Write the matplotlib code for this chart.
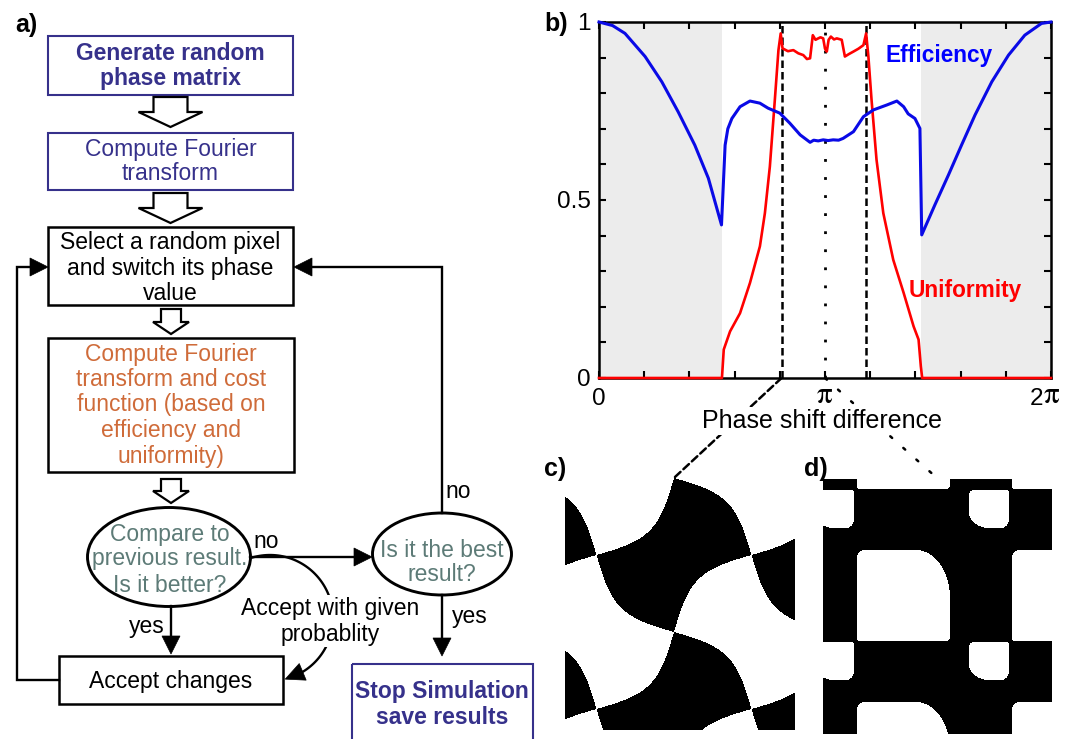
import numpy as np
import matplotlib
matplotlib.use("Agg")
import matplotlib.pyplot as plt
import matplotlib.transforms as mtransforms
from matplotlib.patches import Rectangle, Ellipse, Polygon, ConnectionPatch

plt.rcParams['font.family'] = ['Liberation Sans', 'DejaVu Sans']
plt.rcParams['mathtext.fontset'] = 'stix'

# ---------------- panel b data (phase shift difference in units of pi) ----------------
eff_phase = [0.000, 0.060, 0.115, 0.204, 0.278, 0.350, 0.424, 0.484, 0.542,
             0.558, 0.570, 0.588, 0.624, 0.668, 0.712, 0.748, 0.800, 0.844, 0.890,
             0.934, 0.950, 0.970, 0.992, 1.014, 1.036, 1.060, 1.080, 1.126, 1.170,
             1.214, 1.274, 1.318, 1.348, 1.368, 1.398, 1.420, 1.428,
             1.486, 1.546, 1.604, 1.664, 1.738, 1.812, 1.884, 1.958, 2.000]
eff_value = [1.000, 0.990, 0.968, 0.903, 0.832, 0.748, 0.654, 0.561, 0.430,
             0.654, 0.700, 0.729, 0.762, 0.778, 0.772, 0.758, 0.744, 0.716, 0.683,
             0.662, 0.668, 0.666, 0.669, 0.667, 0.669, 0.668, 0.673, 0.692, 0.734,
             0.753, 0.767, 0.778, 0.762, 0.742, 0.729, 0.701, 0.402,
             0.486, 0.570, 0.654, 0.739, 0.832, 0.907, 0.963, 0.996, 1.000]

uni_phase = [0.000, 0.544, 0.552, 0.580, 0.624, 0.668, 0.712, 0.734, 0.756, 0.778,
             0.794, 0.804, 0.812, 0.836, 0.860, 0.882, 0.904, 0.920, 0.934, 0.946,
             0.958, 0.970, 0.980, 0.992, 1.000, 1.008, 1.016, 1.026, 1.040, 1.052,
             1.074, 1.088, 1.106, 1.126, 1.148, 1.170, 1.182, 1.192, 1.206, 1.228,
             1.258, 1.302, 1.348, 1.392, 1.414, 1.424, 1.430, 2.000]
uni_value = [0.000, 0.000, 0.080, 0.131, 0.182, 0.267, 0.370, 0.463, 0.594, 0.781,
             0.921, 0.968, 0.926, 0.918, 0.921, 0.912, 0.907, 0.896, 0.898, 0.963,
             0.950, 0.954, 0.957, 0.954, 0.925, 0.917, 0.950, 0.959, 0.951, 0.954,
             0.950, 0.903, 0.910, 0.917, 0.925, 0.935, 0.968, 0.903, 0.781, 0.613,
             0.463, 0.332, 0.239, 0.145, 0.108, 0.033, 0.000, 0.000]

shaded_ranges = [(0.0, 0.544), (1.425, 2.0)]
dashed_marks = [0.808, 1.182]
dotted_mark = 1.0
x_tick_values = [0.0, 1.0, 2.0]          # labelled ticks, in units of pi
y_tick_labels = ['0', '', '', '', '', '0.5', '', '', '', '', '1']

# ---------------- phase-mask patterns for panels c and d ----------------
# c: warped checkerboard (lattice centre, half diagonals, warp strength), image pixels
mask_c_size = (230, 252)
mask_c_centre = (109.0, 77.0)
mask_c_half = (77.5, 77.0)
mask_c_warp = 0.78
# d: two rounded white domains repeated on a lattice (x0, x1, y0, y1, corner radii TL, TR, BR, BL)
mask_d_size = (229, 255)
mask_d_period = (155.0, 152.0)
domain_big = (34, 127, 71, 162, [(8, 8), (34, 48), (4, 4), (3, 3)])
domain_small = (146, 186, 11, 49, [(5, 5), (2, 2), (8, 9), (20, 16)])

BLUE_DARK = '#36318b'
ORANGE = '#cf6b39'
TEAL = '#5d7b77'
FS = 16.5

W, H = 1073, 739
fig = plt.figure(figsize=(W / 100, H / 100), dpi=100)

# full-figure canvas in pixel units for the flowchart and annotations
ax0 = fig.add_axes([0, 0, 1, 1])
ax0.set_xlim(0, W)
ax0.set_ylim(H, 0)
ax0.axis('off')


def box(x0, y0, x1, y1, ec, lw=1.8):
    ax0.add_patch(Rectangle((x0, y0), x1 - x0, y1 - y0, fill=False, ec=ec, lw=lw,
                            joinstyle='miter'))


def hollow_arrow(cx, y_top, y_head, y_tip, shaft_hw, head_hw):
    pts = [(cx - shaft_hw, y_top), (cx + shaft_hw, y_top), (cx + shaft_hw, y_head),
           (cx + head_hw, y_head), (cx, y_tip), (cx - head_hw, y_head),
           (cx - shaft_hw, y_head)]
    ax0.add_patch(Polygon(pts, closed=True, fc='white', ec='black', lw=1.6,
                          joinstyle='miter'))


def head(tip, base, hw=9):
    tip = np.asarray(tip, float)
    base = np.asarray(base, float)
    u = (tip - base) / np.hypot(*(tip - base))
    n = np.array([-u[1], u[0]])
    ax0.add_patch(Polygon([tip, base + n * hw, base - n * hw], closed=True,
                          fc='black', ec='black', lw=0.5))


def poly_arrow(points, hl=18, hw=9, lw=1.7):
    pts = np.asarray(points, float)
    tip = pts[-1]
    prev = pts[-2]
    u = (tip - prev) / np.hypot(*(tip - prev))
    base = tip - u * hl
    line = np.vstack([pts[:-1], base])
    ax0.plot(line[:, 0], line[:, 1], color='black', lw=lw, solid_joinstyle='miter')
    head(tip, base, hw)


def lines_text(lines, x, baselines, **kw):
    for s, yb in zip(lines, baselines):
        ax0.text(x, yb, s, ha='center', va='baseline', fontsize=FS, **kw)


# boxes
box(48, 36, 293, 95, BLUE_DARK, lw=1.5)
lines_text(['Generate random', 'phase matrix'], 170.5, [60.5, 85.5],
           color=BLUE_DARK, fontweight='bold')
hollow_arrow(170.5, 97, 112, 127, 17, 32)

box(48, 133, 293, 190, BLUE_DARK, lw=1.5)
lines_text(['Compute Fourier', 'transform'], 170.5, [156, 180.5], color=BLUE_DARK)
hollow_arrow(170.5, 193, 208, 223, 17, 32)

box(48, 227, 293, 305, 'black')
lines_text(['Select a random pixel', 'and switch its phase', 'value'], 170.5,
           [249.5, 274.5, 299.5], color='black')
hollow_arrow(171, 309, 322, 334, 10, 18)

box(48, 338, 294, 472, 'black')
lines_text(['Compute Fourier', 'transform and cost', 'function (based on',
            'efficiency and', 'uniformity)'], 171,
           [360.5, 386, 411.5, 437, 462.5], color=ORANGE)
hollow_arrow(171, 479, 491, 503, 10, 18)

ax0.add_patch(Ellipse((169, 557), 163, 99, fill=False, ec='black', lw=2.1))
lines_text(['Compare to', 'previous result.', 'Is it better?'], 170,
           [540.5, 565.5, 591.5], color=TEAL)

ax0.add_patch(Ellipse((442, 554), 139, 82, fill=False, ec='black', lw=2.1))
lines_text(['Is it the best', 'result?'], 442, [557, 581], color=TEAL)

box(59, 656, 283, 704, 'black')
lines_text(['Accept changes'], 171, [688], color='black')

box(352, 664, 533, 760, BLUE_DARK, lw=1.5)
lines_text(['Stop Simulation', 'save results'], 442, [698, 724.5],
           color=BLUE_DARK, fontweight='bold')

# connectors
poly_arrow([(250, 557), (372, 557)])
poly_arrow([(171, 606), (171, 654)])
poly_arrow([(442, 595), (442, 656)])
poly_arrow([(59, 680), (17, 680), (17, 267), (48, 267)])
poly_arrow([(442, 513), (442, 267), (294, 267)])

# curved "accept with probability" path
arc_c, arc_r = (270.0, 618.0), 63.0
th0, th1 = np.deg2rad(-108), np.deg2rad(76)
th_base = th1 - 19 / arc_r
th = np.linspace(th0, th_base, 80)
ax0.plot(arc_c[0] + arc_r * np.cos(th), arc_c[1] + arc_r * np.sin(th),
         color='black', lw=1.7, zorder=2)
head((arc_c[0] + arc_r * np.cos(th1), arc_c[1] + arc_r * np.sin(th1)),
     (arc_c[0] + arc_r * np.cos(th_base), arc_c[1] + arc_r * np.sin(th_base)))
for s, yb in [('Accept with given', 614.5), ('probablity', 640.5)]:
    ax0.text(330, yb, s, ha='center', va='baseline', fontsize=FS, zorder=3,
             bbox=dict(fc='white', ec='none', pad=1.0))

for s, x, yb in [('no', 266, 547.5), ('no', 458, 497.5),
                 ('yes', 147, 632.5), ('yes', 470, 623.5)]:
    ax0.text(x, yb, s, ha='center', va='baseline', fontsize=FS)

# panel letters
for s, x, yb in [('a)', 37, 32), ('b)', 568, 31), ('c)', 566, 476), ('d)', 828, 476)]:
    ax0.text(x, yb, s, ha='right', va='baseline', fontsize=18, fontweight='bold')

# ---------------- panel b ----------------
axb = fig.add_axes([599 / W, 1 - 378 / H, 452 / W, 356 / H])
for a, b in shaded_ranges:
    axb.axvspan(a * np.pi, b * np.pi, color='#ececec', lw=0, zorder=0)
for m in dashed_marks:
    axb.axvline(m * np.pi, color='black', lw=1.8, ls=(0, (3, 1.6)), zorder=1)
axb.axvline(dotted_mark * np.pi, color='black', lw=2.0, ls=(0, (1, 5.5)), zorder=1)
axb.plot(np.array(uni_phase) * np.pi, uni_value, color='#ff0000', lw=1.9,
         clip_on=False, zorder=4)
axb.plot(np.array(eff_phase) * np.pi, eff_value, color='#0a0ae6', lw=2.2,
         clip_on=False, zorder=5)
axb.set_xlim(0, 2 * np.pi)
axb.set_ylim(0, 1)
axb.set_xticks(np.arange(11) * 0.2 * np.pi)
axb.set_xticklabels([])
axb.set_yticks(np.arange(11) * 0.1)
axb.set_yticklabels(y_tick_labels)
axb.tick_params(direction='in', length=5, width=1.5, top=True, right=True,
                labelsize=17.5)
axb.tick_params(axis='y', pad=6)
for sp in axb.spines.values():
    sp.set_linewidth(1.8)

# x tick labels: sans digits with a larger serif pi
tb = mtransforms.blended_transform_factory(axb.transData, axb.transAxes)
y_digit, y_pi = -0.027, -0.005
for val in x_tick_values:
    xv = val * np.pi
    if val == 0:
        axb.text(xv, y_digit, '0', transform=tb, ha='center', va='top', fontsize=17.5)
    elif val == 1:
        axb.text(xv, y_pi, r'$\mathrm{\pi}$', transform=tb, ha='center', va='top',
                 fontsize=22.5)
    else:
        shifted = mtransforms.offset_copy(tb, fig=fig, x=-8, y=0, units='dots')
        axb.text(xv, y_digit, '2', transform=shifted, ha='right', va='top',
                 fontsize=17.5)
        axb.text(xv, y_pi, r'$\mathrm{\pi}$', transform=shifted, ha='left',
                 va='top', fontsize=22.5)

axb.text(0.872, 0.906, 'Efficiency', transform=axb.transAxes, color='#0000ff',
         fontsize=16.3, fontweight='bold', ha='right', va='center')
axb.text(0.935, 0.245, 'Uniformity', transform=axb.transAxes, color='#ff0000',
         fontsize=16.3, fontweight='bold', ha='right', va='center')

# xlabel with connectors to the masks
ax0.text(822, 428, 'Phase shift difference', ha='center', va='baseline',
         fontsize=18, zorder=5, bbox=dict(fc='white', ec='none', pad=1.5))
con1 = ConnectionPatch(xyA=(dashed_marks[0] * np.pi, 0), coordsA=axb.transData,
                       xyB=(675, 477), coordsB=ax0.transData,
                       color='black', lw=1.8, ls=(0, (3, 1.6)), zorder=2)
con2 = ConnectionPatch(xyA=(dotted_mark * np.pi, 0), coordsA=axb.transData,
                       xyB=(937, 478), coordsB=ax0.transData,
                       color='black', lw=1.8, ls=(0, (1, 6)), zorder=2)
ax0.add_artist(con1)
ax0.add_artist(con2)

# ---------------- panel c: warped checkerboard phase mask ----------------
wc, hc = mask_c_size
u, v = np.meshgrid(np.arange(wc) + 0.5, np.arange(hc) + 0.5)
tu = (u - mask_c_centre[0]) / mask_c_half[0]
tv = (v - mask_c_centre[1]) / mask_c_half[1]
P = 0.5 * np.pi * (tu - tv)
Q = 0.5 * np.pi * (tu + tv)
field_c = np.cos(P) * np.cos(Q) + mask_c_warp * 0.5 * (np.cos(2 * Q) - np.cos(2 * P))
img_c = np.where(field_c > 0, 0.0, 1.0)

axc = fig.add_axes([565 / W, 1 - 730 / H, 230 / W, 252 / H])
axc.imshow(img_c, cmap='gray', vmin=0, vmax=1, aspect='auto',
           interpolation='bilinear')
axc.axis('off')


# ---------------- panel d: rounded-domain phase mask ----------------
def rounded_domain(x, y, spec):
    x0, x1, y0, y1, (tl, tr, br, bl) = spec
    inside = (x >= x0) & (x <= x1) & (y >= y0) & (y <= y1)
    corners = [(x0 + tl[0], y0 + tl[1], tl, -1, -1), (x1 - tr[0], y0 + tr[1], tr, 1, -1),
               (x1 - br[0], y1 - br[1], br, 1, 1), (x0 + bl[0], y1 - bl[1], bl, -1, 1)]
    for cx, cy, (rx, ry), sx, sy in corners:
        in_corner = (sx * (x - cx) > 0) & (sy * (y - cy) > 0)
        outside = ((x - cx) / rx) ** 2 + ((y - cy) / ry) ** 2 > 1
        inside &= ~(in_corner & outside)
    return inside


wd, hd = mask_d_size
xd, yd = np.meshgrid(np.arange(wd) + 0.5, np.arange(hd) + 0.5)
white_d = np.zeros_like(xd, dtype=bool)
for i in range(-1, 2):
    for j in range(-1, 3):
        sx, sy = i * mask_d_period[0], j * mask_d_period[1]
        for spec in (domain_big, domain_small):
            white_d |= rounded_domain(xd - sx, yd - sy, spec)
img_d = white_d.astype(float)

axd = fig.add_axes([823 / W, 1 - 734 / H, 229 / W, 255 / H])
axd.imshow(img_d, cmap='gray', vmin=0, vmax=1, aspect='auto',
           interpolation='bilinear')
axd.axis('off')

fig.savefig('out.png', dpi=100)
